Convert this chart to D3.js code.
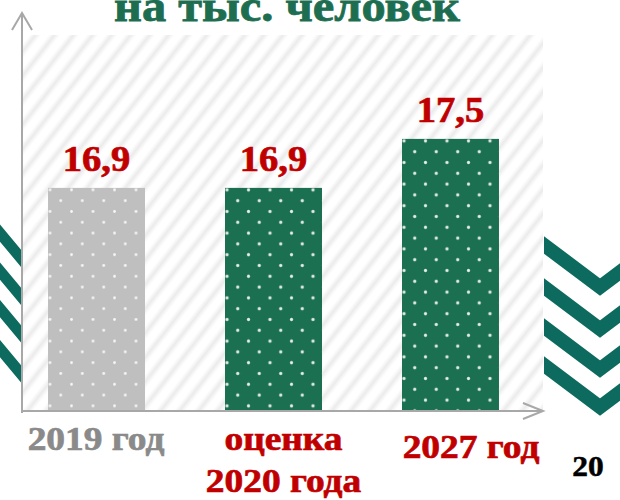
<!DOCTYPE html>
<html>
<head>
<meta charset="utf-8">
<script src="https://cdn.jsdelivr.net/npm/d3@7"></script>
<style>
  body { margin: 0; background: #fff; }
  svg { display: block; }
  text { font-family: "Liberation Serif", "Times New Roman", serif; font-weight: bold; }
</style>
</head>
<body>
<div id="vis"></div>
<script>
////////data////////////////////////////////////////////////
const categories = ["2019 год", "оценка 2020 года", "2027 год"];
const labelLines = [["2019 год"], ["оценка", "2020 года"], ["2027 год"]];
const values = [16.9, 16.9, 17.5];
const valueLabels = ["16,9", "16,9", "17,5"];
const barColors = ["#bfbfbf", "#1c7052", "#1c7052"];
const labelColors = ["#8a8a8a", "#c00000", "#c00000"];
const titleText = "на тыс. человек";
const pageNum = "20";

////////setting up//////////////////////////////////////////
const width = 620, height = 500;
const plotLeft = 22, plotRight = 543, plotTop = 35, plotBottom = 410;
const axisColor = "#a8a8a8";
const chevronColor = "#0c6b5e";

const svg = d3.select("#vis").append("svg")
  .attr("width", width)
  .attr("height", height);
const defs = svg.append("defs");

const x = d3.scaleBand()
  .domain(categories)
  .range([plotLeft, 525])
  .paddingInner(0.452)
  .paddingOuter(0.147);
const y = d3.scaleLinear()
  .domain([14.18, 18.76])
  .range([plotBottom, 36]);
// category labels sit a bit off the bars in the original
const labelX = d3.scalePoint().domain(categories).range([96, 471]);

// soft diagonal stripes for the plot background
const grad = defs.append("linearGradient").attr("id", "stripeGrad")
  .attr("x1", 0).attr("x2", 1).attr("y1", 0).attr("y2", 0);
grad.append("stop").attr("offset", "0%").attr("stop-color", "#ffffff");
grad.append("stop").attr("offset", "50%").attr("stop-color", "#ebebeb");
grad.append("stop").attr("offset", "100%").attr("stop-color", "#ffffff");
const stripes = defs.append("pattern").attr("id", "stripes")
  .attr("patternUnits", "userSpaceOnUse")
  .attr("width", 15).attr("height", 30)
  .attr("patternTransform", "rotate(38)");
stripes.append("rect").attr("width", 15).attr("height", 30).attr("fill", "#fff");
stripes.append("rect").attr("width", 9).attr("height", 30).attr("fill", "url(#stripeGrad)");

// left chevrons (mostly hidden behind the plot)
const leftChev = svg.append("g");
[259.5, 297.5, 335, 375].forEach(c => {
  const s = 1.2, tipX = 36, tipY = c + (tipX - plotLeft) * s, L = 70;
  leftChev.append("polyline")
    .attr("points", [[tipX - L, tipY - L * s], [tipX, tipY], [tipX + L, tipY - L * s]].join(" "))
    .attr("fill", "none").attr("stroke", chevronColor)
    .attr("stroke-width", 11).attr("stroke-linejoin", "miter");
});

// right chevrons
defs.append("clipPath").attr("id", "rightClip")
  .append("rect").attr("x", 544).attr("y", 230).attr("width", 80).attr("height", 200);
const rightChev = svg.append("g").attr("clip-path", "url(#rightClip)");
[287, 329, 369, 407].forEach(tipY => {
  const s = 0.75, tipX = 600, L = 80;
  rightChev.append("polyline")
    .attr("points", [[tipX - L, tipY - L * s], [tipX, tipY], [tipX + L, tipY - L * s]].join(" "))
    .attr("fill", "none").attr("stroke", chevronColor)
    .attr("stroke-width", 14).attr("stroke-linejoin", "miter");
});

// plot background
svg.append("rect")
  .attr("x", plotLeft).attr("y", plotTop)
  .attr("width", plotRight - plotLeft).attr("height", plotBottom - plotTop)
  .attr("fill", "url(#stripes)");

////////bars with dot patterns///////////////////////////////
categories.forEach((c, i) => {
  const p = defs.append("pattern").attr("id", "dots" + i)
    .attr("patternUnits", "userSpaceOnUse")
    .attr("x", x(c) + 2 - 5.4).attr("y", y(values[i]) + 2 - 5.4)
    .attr("width", 21.5).attr("height", 21.6);
  p.append("rect").attr("width", 21.5).attr("height", 21.6).attr("fill", barColors[i]);
  [[5.4, 5.4], [16.15, 16.2]].forEach(d => {
    p.append("circle").attr("cx", d[0]).attr("cy", d[1])
      .attr("r", i === 0 ? 1.4 : 1.6)
      .attr("fill", i === 0 ? "#f6f6f6" : "#e2ece7");
  });
});

svg.append("g").selectAll("rect")
  .data(categories)
  .join("rect")
  .attr("x", d => x(d))
  .attr("y", (d, i) => y(values[i]))
  .attr("width", x.bandwidth())
  .attr("height", (d, i) => y(14.18) - y(values[i]))
  .attr("fill", (d, i) => `url(#dots${i})`);

////////axes with arrows////////////////////////////////////
const axes = svg.append("g")
  .attr("stroke", axisColor).attr("stroke-width", 2).attr("fill", "none");
axes.append("line").attr("x1", plotLeft).attr("x2", plotLeft).attr("y1", 413).attr("y2", 13);
axes.append("polyline").attr("points", "12,30 22,13 32,30");
axes.append("line").attr("x1", plotLeft).attr("x2", 543).attr("y1", 411).attr("y2", 411);
axes.append("polyline").attr("points", "523,403 543,411 523,419");

////////texts////////////////////////////////////////////////
svg.append("text")
  .attr("transform", "translate(287,21) scale(1.1,1)")
  .attr("text-anchor", "middle")
  .attr("font-size", 44)
  .attr("fill", "#1d6e51")
  .attr("stroke", "#1d6e51").attr("stroke-width", 0.8)
  .text(titleText);

svg.append("g").selectAll("text")
  .data(categories)
  .join("text")
  .attr("transform", (d, i) => `translate(${x(d) + x.bandwidth() / 2},${y(values[i]) - 17}) scale(1.1,1)`)
  .attr("text-anchor", "middle")
  .attr("font-size", 35)
  .attr("fill", "#c00000")
  .attr("stroke", "#c00000").attr("stroke-width", 0.7)
  .text((d, i) => valueLabels[i]);

const cats = svg.append("g").selectAll("text")
  .data(categories)
  .join("text")
  .attr("transform", (d, i) => `translate(${labelX(d)},${i === 2 ? 458 : 450}) scale(1.1,1)`)
  .attr("text-anchor", "middle")
  .attr("font-size", 34)
  .attr("fill", (d, i) => labelColors[i])
  .attr("stroke", (d, i) => labelColors[i]).attr("stroke-width", 0.7);
cats.each(function(d, i) {
  d3.select(this).selectAll("tspan")
    .data(labelLines[i])
    .join("tspan")
    .attr("x", 0)
    .attr("dy", (t, j) => j === 0 ? 0 : 42)
    .text(t => t);
});

svg.append("text")
  .attr("transform", "translate(588,476) scale(1.05,1)")
  .attr("text-anchor", "middle")
  .attr("font-size", 30)
  .attr("fill", "#000")
  .attr("stroke", "#000").attr("stroke-width", 0.5)
  .text(pageNum);
</script>
</body>
</html>
